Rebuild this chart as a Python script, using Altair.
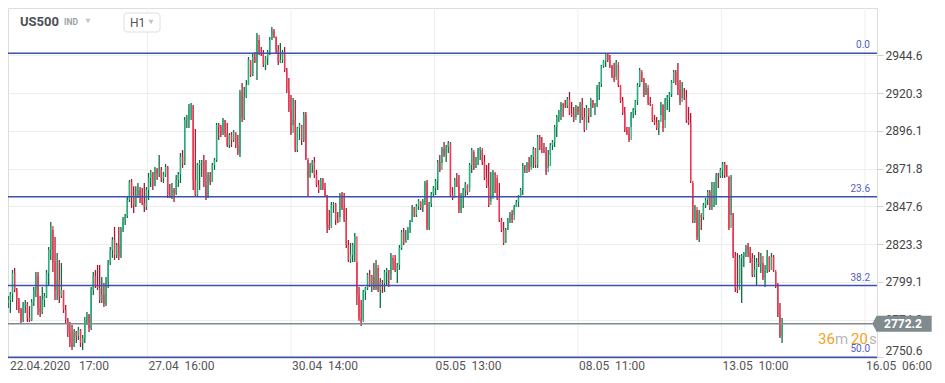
import altair as alt
import pandas as pd

# ---------------- data ----------------
closes = [
    2771.5, 2785.6, 2787.5, 2791.3, 2804.9, 2793.9, 2787.5, 2781.1, 2774.7, 2784.3,
    2784.9, 2776.0, 2774.7, 2786.2, 2793.9, 2802.9, 2782.4, 2779.8, 2787.5, 2790.0,
    2804.9, 2819.6, 2835.0, 2811.9, 2793.9, 2800.3, 2790.0, 2793.9, 2781.1, 2774.7,
    2766.3, 2759.9, 2757.3, 2766.9, 2764.3, 2768.2, 2759.9, 2763.1, 2774.7, 2777.9,
    2769.6, 2793.9, 2802.9, 2797.1, 2795.2, 2787.5, 2790.7, 2784.9, 2799.0, 2811.3,
    2819.6, 2826.0, 2816.4, 2822.8, 2815.1, 2832.4, 2838.9, 2841.4, 2851.7, 2863.2,
    2853.6, 2848.5, 2854.9, 2858.1, 2853.0, 2849.8, 2847.2, 2858.1, 2865.9, 2869.7,
    2861.3, 2871.0, 2869.1, 2871.0, 2865.9, 2867.8, 2872.9, 2854.9, 2854.2, 2858.1,
    2856.2, 2864.5, 2868.4, 2879.3, 2875.5, 2903.1, 2904.4, 2911.4, 2912.0, 2864.5,
    2854.9, 2874.2, 2875.5, 2876.1, 2861.3, 2853.0, 2867.8, 2863.2, 2874.2, 2877.4,
    2899.9, 2898.6, 2893.4, 2903.1, 2894.7, 2887.0, 2893.4, 2890.2, 2895.3, 2887.0,
    2881.9, 2921.0, 2904.4, 2917.8, 2925.5, 2941.6, 2932.0, 2943.5, 2940.3, 2957.6,
    2946.7, 2945.4, 2938.4, 2942.9, 2946.7, 2954.4, 2960.2, 2956.9, 2948.0, 2940.3,
    2941.6, 2946.7, 2935.2, 2922.3, 2909.5, 2894.7, 2903.1, 2883.8, 2898.0, 2899.9,
    2890.2, 2906.3, 2878.7, 2865.9, 2874.2, 2876.1, 2867.8, 2861.3, 2858.1, 2864.5,
    2859.4, 2854.9, 2835.7, 2833.8, 2848.5, 2849.1, 2838.9, 2837.6, 2854.9, 2846.6,
    2838.9, 2822.8, 2813.2, 2816.4, 2822.8, 2828.5, 2790.7, 2776.0, 2773.4, 2792.6,
    2795.2, 2803.6, 2797.1, 2802.3, 2795.2, 2810.0, 2793.9, 2799.0, 2798.4, 2805.5,
    2806.8, 2804.9, 2816.4, 2813.2, 2806.8, 2810.0, 2820.9, 2831.1, 2824.1, 2826.0,
    2832.4, 2837.6, 2847.2, 2842.1, 2847.8, 2851.1, 2846.6, 2851.1, 2862.6, 2833.8,
    2849.1, 2855.5, 2859.4, 2863.9, 2876.1, 2871.0, 2884.4, 2880.6, 2885.7, 2888.3,
    2854.9, 2853.0, 2864.5, 2861.3, 2845.3, 2854.9, 2858.1, 2861.9, 2856.8, 2874.2,
    2883.8, 2872.3, 2878.7, 2883.8, 2885.1, 2876.1, 2865.9, 2860.6, 2848.5, 2852.3,
    2869.7, 2867.8, 2853.0, 2838.9, 2832.4, 2824.1, 2832.4, 2838.9, 2842.7, 2838.9,
    2847.2, 2850.4, 2853.6, 2858.1, 2873.5, 2872.9, 2875.5, 2871.0, 2879.3, 2884.4,
    2874.2, 2892.1, 2885.1, 2883.8, 2882.5, 2869.7, 2873.5, 2887.0, 2888.9, 2898.6,
    2905.0, 2908.2, 2913.3, 2912.7, 2912.0, 2916.5, 2907.6, 2906.3, 2903.1, 2912.0,
    2908.2, 2913.3, 2905.0, 2896.6, 2910.8, 2905.6, 2915.9, 2912.0, 2913.3, 2924.8,
    2926.1, 2937.7, 2941.0, 2945.4, 2941.6, 2937.7, 2931.3, 2928.7, 2940.3, 2925.5,
    2915.3, 2907.6, 2896.6, 2894.0, 2890.2, 2906.9, 2909.5, 2915.3, 2925.5, 2935.2,
    2928.7, 2919.1, 2925.5, 2914.0, 2913.3, 2903.1, 2901.2, 2898.0, 2901.8, 2913.3,
    2898.0, 2915.9, 2917.8, 2919.7, 2927.4, 2933.9, 2927.4, 2922.3, 2914.6, 2917.8,
    2917.2, 2903.1, 2901.2, 2863.9, 2838.9, 2847.2, 2827.9, 2843.4, 2840.8, 2848.5,
    2851.7, 2856.8, 2847.2, 2848.5, 2849.1, 2867.8, 2867.2, 2871.0, 2874.8, 2867.8,
    2867.2, 2833.8, 2843.4, 2815.7, 2795.2, 2793.9, 2814.5, 2815.7, 2817.7, 2822.1,
    2819.6, 2814.5, 2803.6, 2806.8, 2811.9, 2810.6, 2815.7, 2801.7, 2806.8, 2815.7,
    2806.8, 2815.1, 2806.8, 2797.1, 2777.9, 2764.3, 2772.2,
]

highs = [
    2783.6, 2787.5, 2790.0, 2792.6, 2806.8, 2808.1, 2795.2, 2788.8, 2782.4, 2786.2,
    2787.5, 2786.2, 2783.6, 2788.1, 2795.8, 2805.5, 2805.5, 2790.0, 2795.8, 2792.0,
    2806.8, 2821.5, 2837.6, 2832.4, 2827.9, 2817.7, 2813.2, 2811.3, 2793.9, 2784.3,
    2776.0, 2773.4, 2771.5, 2768.9, 2767.6, 2770.2, 2768.9, 2765.0, 2776.6, 2779.8,
    2778.5, 2795.8, 2805.5, 2806.8, 2810.0, 2810.0, 2802.3, 2798.4, 2802.3, 2813.2,
    2821.5, 2827.9, 2834.4, 2824.1, 2834.4, 2834.4, 2840.8, 2842.7, 2853.6, 2864.5,
    2865.2, 2860.6, 2860.6, 2862.6, 2860.0, 2859.4, 2862.6, 2860.0, 2869.1, 2871.0,
    2869.7, 2872.9, 2872.3, 2880.6, 2872.9, 2869.7, 2874.8, 2873.5, 2861.9, 2862.6,
    2859.4, 2867.8, 2869.7, 2881.9, 2883.8, 2905.0, 2906.3, 2913.3, 2914.0, 2912.7,
    2897.3, 2875.5, 2877.4, 2877.4, 2880.6, 2877.4, 2869.7, 2869.7, 2875.5, 2878.7,
    2901.2, 2901.2, 2899.9, 2904.4, 2903.1, 2901.2, 2894.7, 2895.3, 2896.6, 2894.7,
    2893.4, 2922.3, 2926.8, 2924.2, 2928.7, 2943.5, 2941.6, 2946.1, 2946.7, 2958.9,
    2954.4, 2949.9, 2948.0, 2944.1, 2948.0, 2956.3, 2962.8, 2961.5, 2956.3, 2951.2,
    2952.5, 2948.0, 2949.9, 2936.5, 2930.1, 2919.1, 2917.2, 2915.9, 2898.6, 2901.2,
    2899.9, 2908.2, 2908.2, 2877.4, 2875.5, 2877.4, 2879.3, 2871.0, 2864.5, 2865.9,
    2865.9, 2862.6, 2854.9, 2845.3, 2850.4, 2850.4, 2849.8, 2844.0, 2856.2, 2856.8,
    2856.2, 2846.6, 2826.0, 2824.1, 2824.1, 2830.5, 2811.9, 2795.8, 2787.5, 2793.9,
    2795.8, 2804.9, 2806.8, 2803.6, 2811.3, 2813.2, 2808.1, 2801.7, 2800.3, 2806.8,
    2808.1, 2806.8, 2817.7, 2814.5, 2816.4, 2811.3, 2822.8, 2832.4, 2833.8, 2832.4,
    2834.4, 2838.9, 2848.5, 2847.2, 2849.1, 2852.3, 2850.4, 2852.3, 2863.9, 2864.5,
    2850.4, 2856.8, 2860.6, 2865.2, 2877.4, 2880.6, 2885.7, 2888.9, 2887.0, 2889.6,
    2888.9, 2860.0, 2865.9, 2869.1, 2867.8, 2856.2, 2859.4, 2863.2, 2861.3, 2875.5,
    2885.1, 2882.5, 2879.3, 2885.1, 2885.7, 2883.8, 2880.6, 2874.2, 2875.5, 2869.7,
    2871.0, 2869.1, 2865.9, 2862.6, 2840.2, 2837.6, 2833.8, 2840.2, 2844.0, 2845.3,
    2848.5, 2851.7, 2854.9, 2859.4, 2875.5, 2874.2, 2876.1, 2879.3, 2880.6, 2885.7,
    2885.1, 2893.4, 2893.4, 2892.1, 2888.3, 2885.7, 2883.8, 2888.3, 2890.2, 2899.9,
    2906.3, 2909.5, 2914.6, 2914.0, 2915.9, 2917.8, 2921.0, 2914.6, 2911.4, 2912.7,
    2911.4, 2914.6, 2917.2, 2910.8, 2912.7, 2910.8, 2917.2, 2915.9, 2914.0, 2925.5,
    2927.4, 2938.4, 2941.6, 2946.1, 2945.4, 2944.8, 2938.4, 2939.7, 2941.6, 2938.4,
    2925.5, 2917.8, 2911.4, 2898.6, 2898.6, 2908.2, 2910.8, 2915.9, 2926.8, 2936.5,
    2933.9, 2930.1, 2926.8, 2923.6, 2917.8, 2910.8, 2906.3, 2905.0, 2903.1, 2914.6,
    2912.7, 2917.2, 2919.1, 2921.0, 2928.7, 2935.2, 2935.2, 2939.7, 2928.7, 2927.4,
    2923.6, 2922.3, 2911.4, 2907.6, 2862.6, 2848.5, 2845.3, 2845.3, 2842.1, 2849.8,
    2853.0, 2858.1, 2858.1, 2863.2, 2863.2, 2869.1, 2869.1, 2872.3, 2876.1, 2876.1,
    2874.2, 2866.5, 2867.8, 2843.4, 2818.3, 2817.7, 2816.4, 2817.0, 2818.3, 2822.8,
    2824.1, 2821.5, 2817.7, 2816.4, 2814.5, 2818.3, 2817.7, 2811.3, 2810.0, 2819.6,
    2815.1, 2817.7, 2816.4, 2805.5, 2798.4, 2785.6, 2776.0,
]

lows = [
    2766.3, 2769.6, 2782.4, 2779.2, 2786.2, 2792.6, 2781.1, 2779.2, 2772.8, 2773.4,
    2779.2, 2773.4, 2773.4, 2774.1, 2783.6, 2789.4, 2777.9, 2776.6, 2778.5, 2783.0,
    2788.8, 2797.1, 2813.2, 2805.5, 2787.5, 2787.5, 2785.6, 2788.8, 2779.2, 2772.8,
    2763.7, 2757.3, 2755.4, 2757.3, 2759.9, 2761.8, 2757.3, 2755.4, 2759.9, 2771.5,
    2766.9, 2768.2, 2790.7, 2795.2, 2793.9, 2785.6, 2785.6, 2783.0, 2783.6, 2795.2,
    2810.0, 2814.5, 2813.2, 2814.5, 2813.2, 2814.5, 2831.1, 2835.7, 2840.2, 2850.4,
    2846.6, 2843.4, 2847.2, 2853.0, 2849.8, 2848.5, 2844.0, 2845.3, 2851.7, 2860.0,
    2858.1, 2860.6, 2864.5, 2866.5, 2863.2, 2862.6, 2866.5, 2853.0, 2853.0, 2852.3,
    2850.4, 2854.9, 2860.0, 2862.6, 2872.3, 2874.2, 2898.0, 2898.0, 2903.1, 2858.1,
    2853.6, 2853.6, 2858.1, 2866.5, 2860.0, 2851.7, 2853.0, 2861.3, 2863.2, 2871.0,
    2876.1, 2890.2, 2892.1, 2893.4, 2892.1, 2885.7, 2885.1, 2885.7, 2888.9, 2885.1,
    2880.6, 2879.3, 2901.8, 2903.1, 2917.2, 2925.5, 2930.7, 2931.3, 2939.7, 2928.7,
    2944.8, 2944.1, 2937.1, 2935.2, 2938.4, 2944.8, 2954.4, 2955.7, 2946.1, 2938.4,
    2939.7, 2939.7, 2933.9, 2920.4, 2908.2, 2893.4, 2899.9, 2882.5, 2882.5, 2890.2,
    2887.0, 2888.9, 2877.4, 2853.6, 2866.5, 2869.1, 2865.9, 2860.0, 2856.2, 2858.1,
    2858.1, 2853.6, 2830.5, 2832.4, 2833.8, 2843.4, 2835.7, 2837.0, 2840.8, 2845.3,
    2837.6, 2820.9, 2811.9, 2811.3, 2811.9, 2811.9, 2784.3, 2774.1, 2770.8, 2774.7,
    2787.5, 2793.9, 2795.8, 2792.6, 2793.9, 2793.9, 2792.6, 2782.4, 2792.0, 2792.6,
    2797.1, 2795.8, 2800.3, 2806.8, 2805.5, 2798.4, 2806.8, 2819.6, 2822.8, 2824.7,
    2826.0, 2830.5, 2837.6, 2840.8, 2840.8, 2845.3, 2845.3, 2844.0, 2848.5, 2832.4,
    2832.4, 2847.2, 2853.6, 2854.9, 2858.1, 2869.7, 2875.5, 2879.3, 2876.1, 2881.9,
    2853.6, 2851.7, 2860.0, 2860.0, 2843.4, 2843.4, 2846.6, 2853.6, 2854.9, 2859.4,
    2869.1, 2871.0, 2872.3, 2874.2, 2877.4, 2874.2, 2864.5, 2859.4, 2847.2, 2851.1,
    2853.6, 2856.2, 2851.7, 2837.6, 2831.1, 2822.8, 2824.1, 2832.4, 2837.0, 2837.0,
    2842.1, 2847.2, 2847.2, 2853.6, 2854.9, 2869.1, 2869.1, 2869.7, 2872.9, 2872.3,
    2872.3, 2872.3, 2883.8, 2881.9, 2881.9, 2867.8, 2872.3, 2880.6, 2883.8, 2885.7,
    2892.1, 2901.8, 2903.1, 2905.0, 2910.8, 2910.8, 2906.3, 2905.0, 2901.8, 2905.0,
    2906.3, 2901.2, 2903.1, 2895.3, 2901.8, 2901.2, 2905.0, 2910.8, 2906.3, 2911.4,
    2915.9, 2924.2, 2936.5, 2937.1, 2940.3, 2936.5, 2930.1, 2927.4, 2930.7, 2924.2,
    2914.0, 2906.3, 2895.3, 2893.4, 2888.9, 2898.6, 2904.4, 2906.3, 2912.7, 2924.2,
    2927.4, 2917.8, 2919.1, 2912.7, 2912.0, 2901.8, 2899.9, 2896.6, 2893.4, 2906.3,
    2895.3, 2903.1, 2909.5, 2908.2, 2917.8, 2926.8, 2925.5, 2919.1, 2912.7, 2917.2,
    2915.9, 2901.2, 2899.9, 2862.6, 2837.0, 2837.0, 2826.0, 2824.7, 2832.4, 2838.9,
    2846.6, 2848.5, 2845.3, 2845.3, 2847.2, 2848.5, 2859.4, 2865.9, 2865.9, 2865.9,
    2866.5, 2832.4, 2842.1, 2814.5, 2792.6, 2792.0, 2798.4, 2785.6, 2808.7, 2815.1,
    2815.1, 2811.3, 2802.3, 2802.3, 2797.1, 2808.7, 2804.9, 2800.3, 2795.8, 2804.9,
    2805.5, 2806.8, 2805.5, 2795.2, 2776.6, 2763.1, 2759.9,
]

first_open = 2782.0

y_ticks = [2750.6, 2774.8, 2799.1, 2823.3, 2847.6, 2871.8, 2896.1, 2920.3, 2944.6]
x_tick_idx = [0, 67.5, 135, 202.5, 270, 337.5, 405]
x_tick_dates = ["22.04.2020", "27.04", "30.04", "05.05", "08.05", "13.05", "16.05"]
x_tick_times = ["17:00", "16:00", "14:00", "13:00", "11:00", "10:00", "06:00"]
fib_names = ["0.0", "23.6", "38.2", "50.0"]
fib_prices = [2945.9, 2853.8, 2796.8, 2750.8]
last_price = 2772.2
countdown_parts = ["36", "m", "20", "s"]

# ---------------- layout ----------------
W, H = 869, 350
X_DOM = [1.882, 410.65]
Y_DOM = [2750.26, 2974.96]
FONT = "Roboto"

GREEN, GREEN_D = "#1fb47a", "#0e6b44"
RED, RED_D = "#ff3350", "#a8182e"
FIB = "#3f4fb0"

opens = [first_open] + closes[:-1]
df = pd.DataFrame({
    "i": list(range(len(closes))),
    "open": opens, "close": closes, "high": highs, "low": lows,
})
up = df["close"] >= df["open"]
df["body_col"] = [GREEN if u else RED for u in up]
df["wick_col"] = [GREEN_D if u else RED_D for u in up]

xs = alt.Scale(domain=X_DOM, nice=False, zero=False)
ys = alt.Scale(domain=Y_DOM, nice=False, zero=False)

yaxis = alt.Axis(
    orient="right", values=y_ticks, format=".1f", title=None,
    labelFontSize=12, labelColor="#444444", labelFont=FONT,
    tickSize=6, tickColor="#d0d0d0", domain=False,
    grid=True, gridColor="#eeeeee", gridWidth=1,
    labelPadding=2, labelFlush=2,
)

ticks_df = pd.DataFrame({
    "t": x_tick_idx,
    "lab": [d + ("\u00a0" * (3 if k == 0 else 2)) + tm
            for k, (d, tm) in enumerate(zip(x_tick_dates, x_tick_times))],
})

vgrid = alt.Chart(ticks_df).mark_rule(color="#eeeeee", strokeWidth=1).encode(
    x=alt.X("t:Q", scale=xs, axis=None),
    y=alt.value(0), y2=alt.value(H),
)

xlabels = alt.Chart(ticks_df).transform_calculate(
    tx="max(datum.t, 2.3)"
).mark_text(align="left", baseline="middle", dx=1, fontSize=12,
            font=FONT, color="#555555").encode(
    x=alt.X("tx:Q", scale=xs, axis=None),
    y=alt.value(358),
    text="lab:N",
)

wicks = alt.Chart(df).mark_rule(strokeWidth=1.3).encode(
    x=alt.X("i:Q", scale=xs, axis=None),
    y=alt.Y("low:Q", scale=ys, axis=yaxis),
    y2="high:Q",
    color=alt.Color("wick_col:N", scale=None),
)

bodies = alt.Chart(df).mark_rule(strokeWidth=1.3).encode(
    x=alt.X("i:Q", scale=xs, axis=None),
    y=alt.Y("open:Q", scale=ys, axis=yaxis),
    y2="close:Q",
    color=alt.Color("body_col:N", scale=None),
)

fib_df = pd.DataFrame({"name": fib_names, "p": fib_prices})
fib_lines = alt.Chart(fib_df).mark_rule(color=FIB, strokeWidth=1.5).encode(
    y=alt.Y("p:Q", scale=ys, axis=yaxis),
    x=alt.value(0), x2=alt.value(W),
)
fib_text = alt.Chart(fib_df).mark_text(
    align="right", baseline="bottom", dy=-3, fontSize=10, font=FONT, color="#5560c0"
).encode(
    y=alt.Y("p:Q", scale=ys, axis=yaxis),
    x=alt.value(862),
    text="name:N",
)

price_df = pd.DataFrame({"p": [last_price], "lab": [f"{last_price:.1f}"]})
price_line = alt.Chart(price_df).mark_rule(color="#7f8b8d", strokeWidth=1.5).encode(
    y=alt.Y("p:Q", scale=ys, axis=yaxis),
    x=alt.value(0), x2=alt.value(W),
)
TAG_PATH = "M-1,0L-0.855,-0.27L1,-0.27L1,0.27L-0.855,0.27Z"
price_tag = alt.Chart(price_df).mark_point(
    shape=TAG_PATH, filled=True, size=3528, color="#7f8b8d", opacity=1
).encode(
    y=alt.Y("p:Q", scale=ys, axis=yaxis),
    x=alt.value(894),
)
price_tag_text = alt.Chart(price_df).mark_text(
    align="center", baseline="middle", fontSize=12, fontWeight="bold",
    font=FONT, color="white"
).encode(
    y=alt.Y("p:Q", scale=ys, axis=yaxis),
    x=alt.value(895),
    text="lab:N",
)

one = pd.DataFrame({"k": [0]})


def label(txt, x, y, size, color, weight="normal", align="left"):
    return alt.Chart(one).mark_text(
        text=txt, align=align, baseline="middle", fontSize=size,
        fontWeight=weight, font=FONT, color=color
    ).encode(x=alt.value(x), y=alt.value(y))


cd_cols = ["#f7a21b", "#b8b8b8", "#f7a21b", "#b8b8b8"]
cd_x = [810, 827, 843, 861]
countdown = [label(t, x, 331, 15, c) for t, x, c in zip(countdown_parts, cd_x, cd_cols)]

header_box = alt.Chart(one).mark_rect(
    fill="white", stroke="#dedede", strokeWidth=1, cornerRadius=3
).encode(x=alt.value(116), x2=alt.value(152), y=alt.value(5), y2=alt.value(24))


def tri(x, y):
    return alt.Chart(one).mark_point(
        shape="triangle-down", filled=True, size=28, color="#c2c6ca", opacity=1
    ).encode(x=alt.value(x), y=alt.value(y))


header = [
    label("US500", 12, 14, 13, "#4a4f55", "bold"),
    label("IND", 56, 14, 8.5, "#9ba1a7", "bold"),
    tri(80, 13),
    header_box,
    label("H1", 122, 15, 12, "#555555"),
    tri(143, 14),
]

chart = alt.layer(
    vgrid, wicks, bodies, fib_lines, price_line, fib_text, xlabels,
    price_tag, price_tag_text, *countdown, *header
).properties(
    width=W, height=H,
    padding={"left": 0, "top": 0, "right": 60, "bottom": 15},
    autosize=alt.AutoSizeParams(type="none"),
).configure_view(stroke=None).configure(font=FONT, background="white")

chart.save("out.html", embed_options={"renderer": "svg", "actions": False})
